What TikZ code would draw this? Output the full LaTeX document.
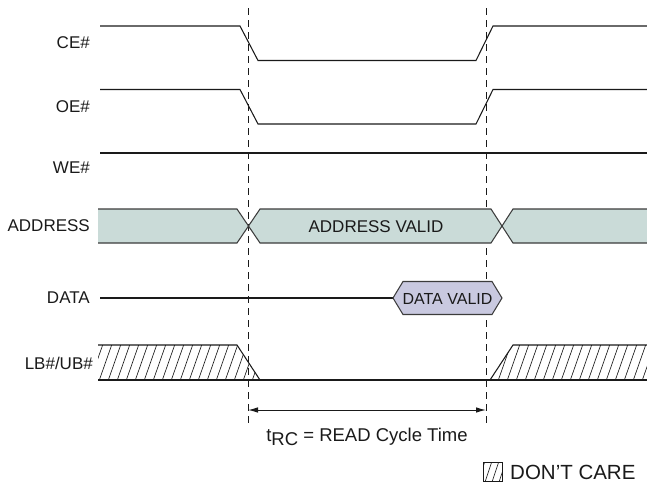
\documentclass[tikz,border=0pt]{standalone}
\usepackage{fontspec}
\setmainfont{Liberation Sans}
\usetikzlibrary{arrows.meta}
\definecolor{addrfill}{HTML}{CADBD8}
\definecolor{datafill}{HTML}{C9C9E0}
\definecolor{wavecol}{HTML}{1A1A1A}
\begin{document}
\begin{tikzpicture}[x=1pt,y=-1pt,
  lbl/.style={anchor=east,inner sep=0pt,font=\fontsize{17}{19}\selectfont,text=wavecol},
  wave/.style={draw=wavecol,line width=1.05pt,line join=miter},
  busline/.style={draw=wavecol!85,line width=1.05pt},
  hatchline/.style={draw=wavecol,line width=0.65pt},
  guide/.style={draw=wavecol,line width=0.8pt,dash pattern=on 7pt off 5pt},
  txt/.style={inner sep=0pt,font=\fontsize{17}{19}\selectfont,text=wavecol}]
\useasboundingbox (0,0) rectangle (647,493);

% labels
\node[lbl] (ce) at (90,43) {CE\#};
\node[lbl] (oe) at (90,107) {OE\#};
\node[lbl] (we) at (90,168) {WE\#};
\node[lbl] (addr) at (90,226) {ADDRESS};
\node[lbl] (data) at (90,298) {DATA};
\node[lbl] (lbub) at (93,363) {LB\#/UB\#};

% guides
\coordinate (g1t) at (248,8);
\coordinate (g1b) at (248,426);
\coordinate (g2t) at (486,8);
\coordinate (g2b) at (486,426);
\draw[guide] (g1t) -- (g1b);
\draw[guide] (g2t) -- (g2b);

% CE#
\draw[wave] (100,26) -- (240,26) -- (258,60.5) -- (476,60.5) -- (493,26) -- (647,26);
% OE#
\draw[wave] (100,89.5) -- (240,89.5) -- (258,124) -- (476,124) -- (493,89.5) -- (647,89.5);
% WE#
\draw[wave] (100,153) -- (647,153);

% ADDRESS
\fill[addrfill] (98,209) -- (237,209) -- (248,226) -- (237,243) -- (98,243) -- cycle;
\fill[addrfill] (248,226) -- (260,209) -- (491,209) -- (502,226) -- (491,243) -- (260,243) -- cycle;
\fill[addrfill] (502,226) -- (513,209) -- (647,209) -- (647,243) -- (513,243) -- cycle;
\draw[busline] (98,209) -- (237,209) -- (260,243) -- (491,243) -- (513,209) -- (647,209);
\draw[busline] (98,243) -- (237,243) -- (260,209) -- (491,209) -- (513,243) -- (647,243);
\node[txt] (addrv) at (376,226.5) {ADDRESS VALID};

% DATA
\draw[wave] (100,298) -- (393,298);
\draw[busline,fill=datafill] (393,298) -- (403,281.5) -- (492,281.5) -- (502,298) -- (492,314.5) -- (403,314.5) -- cycle;
\node[txt,font=\fontsize{16}{18}\selectfont] (datav) at (447.5,298.5) {DATA VALID};

% LB#/UB#
\begin{scope}
  \clip (98,345) -- (237,345) -- (260,380) -- (98,380) -- cycle;
  \foreach \i in {0,...,20} {\draw[hatchline] (90+\i*9,381) -- (103+\i*9,344);}
\end{scope}
\begin{scope}
  \clip (490,380) -- (513,345) -- (647,345) -- (647,380) -- cycle;
  \foreach \i in {0,...,20} {\draw[hatchline] (480+\i*9,381) -- (493+\i*9,344);}
\end{scope}
\draw[wave] (98,345) -- (237,345) -- (260,380);
\draw[wave] (98,380) -- (647,380);
\draw[wave] (490,380) -- (513,345) -- (647,345);

% tRC
\coordinate (a1) at (248,410);
\coordinate (a2) at (486,410);
\draw[draw=wavecol,line width=1pt,{Latex[length=10pt,width=5.5pt]}-{Latex[length=10pt,width=5.5pt]}] (a1) -- (a2);
\node[txt,font=\fontsize{18.5}{20}\selectfont] (trc) at (367,437) {t\raisebox{-0.4ex}{RC} = READ Cycle Time};

% legend
\begin{scope}
  \clip (483,462) rectangle (502,481);
  \foreach \i in {0,...,4} {\draw[hatchline] (478+\i*7,482) -- (485+\i*7,461);}
\end{scope}
\draw[draw=wavecol,line width=0.8pt] (483,462) rectangle (502,481) node (legbox) {};
\node[txt,anchor=west,font=\fontsize{20.5}{22}\selectfont] (dc) at (510,472) {DON’T CARE};
\end{tikzpicture}
\end{document}
